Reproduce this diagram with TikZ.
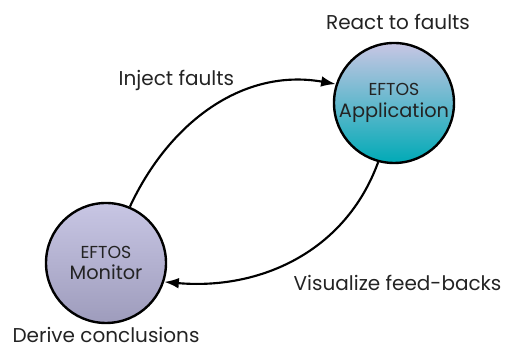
\documentclass[tikz,border=0pt]{standalone}
\usepackage{fontspec}
\setmainfont{Poppins}
\usepackage{xcolor}
\usetikzlibrary{arrows.meta}

\definecolor{txtgray}{RGB}{35,35,35}
\definecolor{lavtop}{RGB}{200,198,228}
\definecolor{teal}{RGB}{0,170,182}
\definecolor{monbot}{RGB}{158,156,188}

\tikzset{
	agent/.style={circle,draw=black,line width=1.8pt,minimum size=90pt,
		inner sep=0pt,align=center,text=txtgray},
	note/.style={text=txtgray,font=\fontsize{15}{18}\selectfont}
}

\begin{document}
\begin{tikzpicture}[x=0.75pt,y=0.75pt]
	\useasboundingbox (0,0) rectangle (510,348);
	% nodes
	\node[agent,top color=lavtop,bottom color=teal] (App) at (394,245)
		{{\fontsize{13}{15}\selectfont EFTOS}\\[4pt]{\fontsize{14.5}{17}\selectfont Application}};
	\node[agent,top color=lavtop,bottom color=monbot] (Mon) at (106,85)
		{{\fontsize{13}{15}\selectfont EFTOS}\\[4pt]{\fontsize{14.5}{17}\selectfont Monitor}};
	% labels
	\node[note] (react) at (398,326) {React to faults};
	\node[note,anchor=west] (inject) at (114,268) {Inject faults};
	\node[note,anchor=west] (visual) at (289,65) {Visualize feed-backs};
	\node[note] (derive) at (106,13) {Derive conclusions};
	%
	\path[-{Latex[length=11pt,width=8pt]},line width=1.6pt]
	% arcs
	(Mon.67) edge[out=65,in=170] (App.162)
	(App.255) edge[out=250,in=-5] (Mon.-18);
\end{tikzpicture}
\end{document}
